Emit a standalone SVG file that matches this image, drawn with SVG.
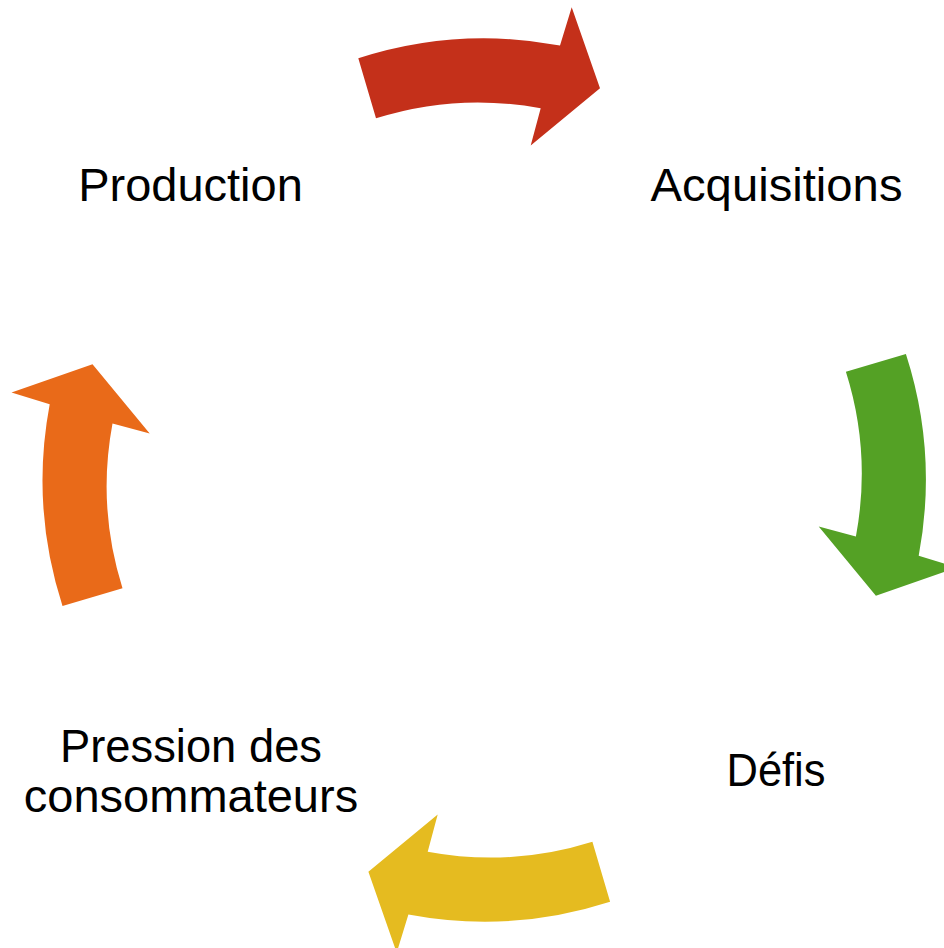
<svg xmlns="http://www.w3.org/2000/svg" xmlns:xlink="http://www.w3.org/1999/xlink" width="944" height="948" viewBox="0 0 944 948">
<style>
.lbl{font-family:"Liberation Sans",Arial,sans-serif;font-size:47px;fill:#000;text-anchor:middle}
</style>
<defs>
<path id="arrow" d="M 358.3 58.3 A 410 410 0 0 1 560 45.5 L 571.7 7.3 L 600 88.3 L 530.7 145.5 L 540.7 108.3 A 340 340 0 0 0 376 118.3 Z"/>
</defs>
<rect width="944" height="948" fill="#fff"/>
<g id="connectors">
<use xlink:href="#arrow" href="#arrow" fill="#C4301A"/>
<use xlink:href="#arrow" href="#arrow" fill="#54A125" transform="rotate(90 484.2 480)"/>
<use xlink:href="#arrow" href="#arrow" fill="#E5BB20" transform="rotate(180 484.2 480)"/>
<use xlink:href="#arrow" href="#arrow" fill="#E96A19" transform="rotate(270 484.2 480)"/>
</g>
<g id="node-production"><text class="lbl" x="190.5" y="200.5">Production</text></g>
<g id="node-acquisitions"><text class="lbl" x="776.5" y="200.5" textLength="252" lengthAdjust="spacingAndGlyphs">Acquisitions</text></g>
<g id="node-defis"><text class="lbl" x="776" y="786" textLength="99" lengthAdjust="spacingAndGlyphs">Défis</text></g>
<g id="node-pression"><text class="lbl" x="191" y="761.5"><tspan x="191" textLength="262" lengthAdjust="spacingAndGlyphs">Pression des</tspan><tspan x="191" y="811.5">consommateurs</tspan></text></g>
</svg>
